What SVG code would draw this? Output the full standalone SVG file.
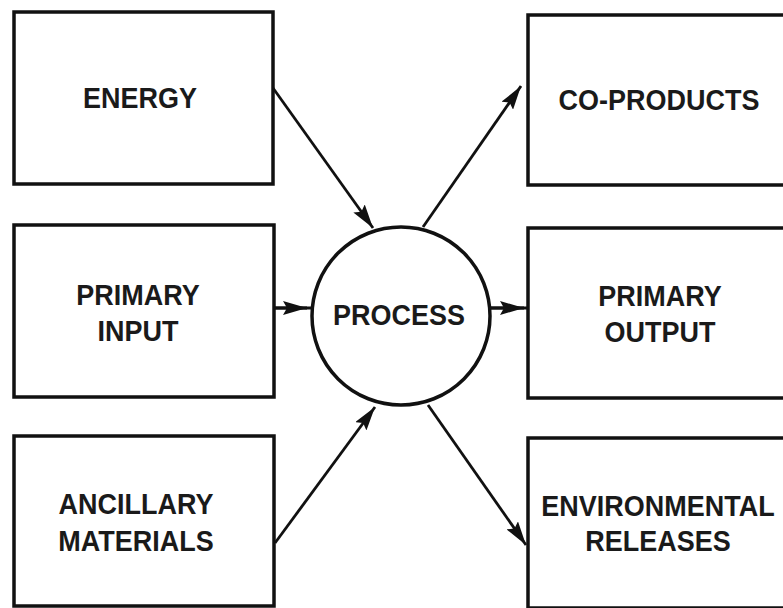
<svg xmlns="http://www.w3.org/2000/svg" width="783" height="608" viewBox="0 0 783 608">
  <style>
    .box { fill: #ffffff; stroke: #111111; stroke-width: 3.5; }
    .hub { fill: #ffffff; stroke: #111111; stroke-width: 3.5; }
    .lbl { font-family: "Liberation Sans", Arial, sans-serif; font-weight: bold; font-size: 27px; fill: #1a1a1a; text-anchor: middle; }
    .flow { stroke: #111111; stroke-width: 2.8; fill: none; }
    .flow-head { stroke: #111111; stroke-width: 2.8; fill: none; marker-end: url(#arrow); }
  </style>
  <defs>
    <marker id="arrow" markerUnits="userSpaceOnUse" markerWidth="26" markerHeight="14" refX="24" refY="7" orient="auto">
      <path d="M0,0 L24,7 L0,14 L4,7 z" fill="#111111"/>
    </marker>
  </defs>
  <rect width="783" height="608" fill="#ffffff"/>

  <g id="energy">
    <rect class="box" x="14" y="12" width="259" height="172"/>
    <text class="lbl" transform="translate(140,108) scale(1,1.12)">ENERGY</text>
  </g>
  <g id="primary-input">
    <rect class="box" x="14" y="225" width="260" height="172"/>
    <text class="lbl" transform="translate(138,305) scale(1,1.12)">PRIMARY</text>
    <text class="lbl" transform="translate(138,341) scale(1,1.12)">INPUT</text>
  </g>
  <g id="ancillary-materials">
    <rect class="box" x="14" y="436" width="260" height="170"/>
    <text class="lbl" transform="translate(136,514) scale(1,1.12)">ANCILLARY</text>
    <text class="lbl" transform="translate(136,551) scale(1,1.12)">MATERIALS</text>
  </g>
  <g id="process">
    <circle class="hub" cx="401" cy="316" r="89"/>
    <text class="lbl" transform="translate(399,325) scale(1,1.12)">PROCESS</text>
  </g>
  <g id="co-products">
    <rect class="box" x="528" y="15" width="270" height="170"/>
    <text class="lbl" transform="translate(659,110) scale(1,1.12)">CO-PRODUCTS</text>
  </g>
  <g id="primary-output">
    <rect class="box" x="528" y="228" width="270" height="170"/>
    <text class="lbl" transform="translate(660,306) scale(1,1.12)">PRIMARY</text>
    <text class="lbl" transform="translate(660,342) scale(1,1.12)">OUTPUT</text>
  </g>
  <g id="environmental-releases">
    <rect class="box" x="528" y="438" width="270" height="170"/>
    <text class="lbl" transform="translate(658,516) scale(1,1.12)">ENVIRONMENTAL</text>
    <text class="lbl" transform="translate(658,551) scale(1,1.12)">RELEASES</text>
  </g>

  <g id="connectors">
    <line class="flow-head" x1="273" y1="88" x2="373" y2="228"/>
    <line class="flow-head" x1="423" y1="227" x2="521" y2="86"/>
    <line class="flow" x1="274" y1="308" x2="313" y2="308"/>
    <line class="flow-head" x1="274" y1="308" x2="307" y2="308"/>
    <line class="flow" x1="490" y1="308" x2="528" y2="308"/>
    <line class="flow-head" x1="490" y1="308" x2="524" y2="308"/>
    <line class="flow-head" x1="275" y1="543" x2="375" y2="407"/>
    <line class="flow-head" x1="428" y1="405" x2="526" y2="545"/>
  </g>
</svg>
